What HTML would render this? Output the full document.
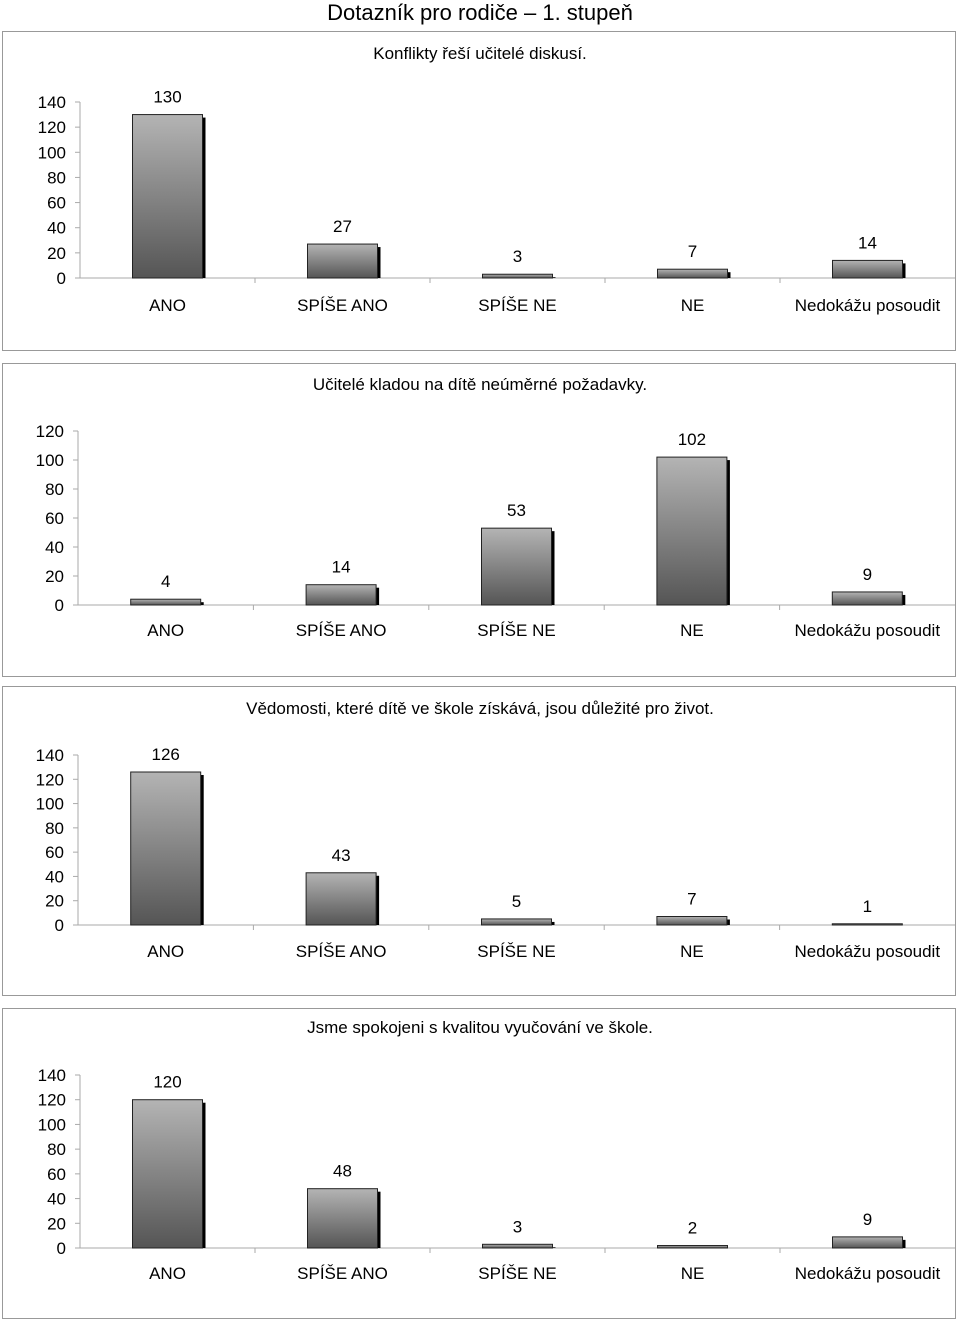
<!DOCTYPE html>
<html><head><meta charset="utf-8"><style>
body{margin:0;background:#fff;font-family:"Liberation Sans",sans-serif;}
svg{display:block}
</style></head><body>
<svg id="s" width="960" height="1321" xmlns="http://www.w3.org/2000/svg" font-family="Liberation Sans, sans-serif">
<defs><linearGradient id="g" x1="0" y1="0" x2="0" y2="1"><stop offset="0" stop-color="#b4b4b4"/><stop offset="1" stop-color="#555"/></linearGradient></defs>
<text x="480" y="20" font-size="22" text-anchor="middle" fill="#000">Dotazník pro rodiče – 1. stupeň</text>
</svg>
<script>
const categories=["ANO","SPÍŠE ANO","SPÍŠE NE","NE","Nedokážu posoudit"];
const titles=["Konflikty řeší učitelé diskusí.","Učitelé kladou na dítě neúměrné požadavky.","Vědomosti, které dítě ve škole získává, jsou důležité pro život.","Jsme spokojeni s kvalitou vyučování ve škole."];
const values1=[130,27,3,7,14];
const values2=[4,14,53,102,9];
const values3=[126,43,5,7,1];
const values4=[120,48,3,2,9];
const ticks1=[0,20,40,60,80,100,120,140];
const ticks2=[0,20,40,60,80,100,120];
const ticks3=[0,20,40,60,80,100,120,140];
const ticks4=[0,20,40,60,80,100,120,140];
const series=[values1,values2,values3,values4];
const tickSets=[ticks1,ticks2,ticks3,ticks4];
const layout=[
 {top:31,bot:350,y0:278,yTop:102,title:53,lab:305,ax:80},
 {top:363,bot:676,y0:605,yTop:431,title:384,lab:630,ax:78},
 {top:686,bot:995,y0:925,yTop:755,title:708,lab:951,ax:78},
 {top:1008,bot:1318,y0:1248,yTop:1075,title:1027,lab:1273,ax:80}];
const NS="http://www.w3.org/2000/svg";
const svg=document.getElementById('s');
function mk(tag,attrs,parent){const e=document.createElementNS(NS,tag);for(const k in attrs)e.setAttribute(k,attrs[k]);parent.appendChild(e);return e;}
layout.forEach((L,ci)=>{
 const g=mk('g',{},svg);
 
 
 const box=mk('rect',{x:2.5,y:L.top+.5,width:953,height:L.bot-L.top,fill:'#fff',stroke:'#999'},g);
 
 
 const t=mk('text',{x:480,y:L.title+6,'font-size':17,'text-anchor':'middle'},g);
 t.textContent=titles[ci];
 
 
 const ticks=tickSets[ci];const max=ticks[ticks.length-1];
 const y=v=>L.y0-(L.y0-L.yTop)*v/max;
 const x0=L.ax,x1=955,cw=(x1-x0)/categories.length;
 const xc=i=>x0+cw*(i+0.5);
 mk('line',{x1:x0,y1:L.yTop,x2:x0,y2:L.y0,stroke:'#aaa'},g);
 mk('line',{x1:x0,y1:L.y0,x2:x1,y2:L.y0,stroke:'#aaa'},g);
 ticks.forEach(tv=>{
  mk('line',{x1:x0-5,y1:y(tv),x2:x0,y2:y(tv),stroke:'#aaa'},g);
  const tt=mk('text',{x:x0-14,y:y(tv)+6,'font-size':17,'text-anchor':'end'},g);
  tt.textContent=tv;
  
  
 });
 for(let i=1;i<categories.length;i++)mk('line',{x1:x0+cw*i,y1:L.y0,x2:x0+cw*i,y2:L.y0+5,stroke:'#aaa'},g);
 categories.forEach((c,i)=>{
  const v=series[ci][i];const top=y(v);const bx=xc(i)-35;
  mk('rect',{x:bx+3,y:top+3,width:70,height:Math.max(L.y0-top-3,0),fill:'#000'},g);
  const b=mk('rect',{x:bx,y:top,width:70,height:Math.max(L.y0-top,1),fill:'url(#g)',stroke:'#222','stroke-width':1},g);
  
  
  const vl=mk('text',{x:xc(i),y:top-12,'font-size':17,'text-anchor':'middle'},g);
  vl.textContent=v;
  
  
  const cl=mk('text',{x:xc(i),y:L.lab+6,'font-size':17,'text-anchor':'middle'},g);
  cl.textContent=c;
  
  
 });
});
</script>
</body></html>
